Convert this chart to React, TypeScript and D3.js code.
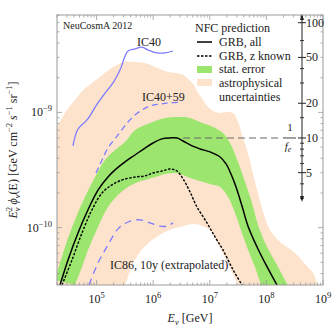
import React from 'react';
import * as d3 from 'd3';

const W = 332, H = 327;
const M = { left: 57, right: 323, top: 15, bottom: 285 };

const xDomain: [number, number] = [2e4, 1e9];
const yDomain: [number, number] = [3.18e-11, 7.0e-9];

const xTickExps = [5, 6, 7, 8, 9];
const yTickExps = [-10, -9];
const feMajor = [5, 10, 20, 50, 100];
const feMinor = [3, 4, 6, 7, 8, 9, 15, 30, 40, 70];
const feRef = 10;
const feToFlux = 6.0e-11;
const feRefStartE = 3.37e6;

// GRB, all
const grbAllE = [2.26e4, 3.13e4, 4.70e4, 7.06e4, 1.06e5, 1.59e5, 2.12e5, 3.18e5, 4.78e5, 7.17e5, 9.94e5, 1.43e6, 1.98e6, 2.64e6, 3.37e6, 4.86e6, 6.72e6, 1.01e7, 1.52e7, 1.94e7, 2.37e7, 2.91e7, 3.71e7, 4.74e7, 6.84e7, 1.03e8, 1.54e8, 1.82e8];
const grbAllF = [3.18e-11, 5.25e-11, 9.0e-11, 1.43e-10, 2.12e-10, 2.75e-10, 3.17e-10, 3.72e-10, 4.27e-10, 4.91e-10, 5.43e-10, 5.89e-10, 6.0e-10, 6.0e-10, 5.65e-10, 5.12e-10, 4.82e-10, 4.54e-10, 4.10e-10, 3.57e-10, 2.92e-10, 2.25e-10, 1.54e-10, 1.03e-10, 6.8e-11, 4.56e-11, 3.18e-11, 2.77e-11];

// GRB, z known
const grbZE = [2.45e4, 3.68e4, 5.53e4, 8.30e4, 1.25e5, 1.87e5, 2.81e5, 4.78e5, 7.17e5, 9.94e5, 1.43e6, 1.98e6, 2.64e6, 3.37e6, 4.48e6, 5.95e6, 8.93e6, 1.24e7, 1.71e7, 2.58e7, 3.71e7, 4.37e7];
const grbZF = [3.18e-11, 5.25e-11, 9.0e-11, 1.43e-10, 2.0e-10, 2.35e-10, 2.59e-10, 2.75e-10, 2.81e-10, 2.98e-10, 3.10e-10, 3.23e-10, 3.10e-10, 2.65e-10, 2.04e-10, 1.51e-10, 1.10e-10, 8.3e-11, 6.41e-11, 4.30e-11, 3.18e-11, 2.77e-11];

// stat. error band
const statUpE = [1.84e4, 2.77e4, 4.16e4, 6.25e4, 9.38e4, 1.41e5, 2.12e5, 3.18e5, 4.78e5, 7.17e5, 1.08e6, 1.62e6, 2.43e6, 3.65e6, 5.06e6, 6.72e6, 1.14e7, 1.71e7, 2.28e7, 2.91e7, 3.56e7, 4.20e7, 5.57e7, 7.11e7, 9.86e7, 1.54e8, 2.13e8, 2.72e8];
const statUpF = [3.52e-11, 6.8e-11, 1.17e-10, 1.85e-10, 2.75e-10, 3.87e-10, 4.72e-10, 5.54e-10, 7.04e-10, 7.78e-10, 8.43e-10, 8.95e-10, 9.1e-10, 9.1e-10, 8.77e-10, 8.26e-10, 7.48e-10, 6.63e-10, 5.43e-10, 4.10e-10, 3.17e-10, 2.49e-10, 1.64e-10, 1.06e-10, 7.08e-11, 4.75e-11, 3.52e-11, 2.88e-11];
const statLoE = [4.16e4, 5.53e4, 7.06e4, 1.06e5, 1.59e5, 2.39e5, 3.59e5, 5.40e5, 7.17e5, 1.08e6, 1.62e6, 2.43e6, 3.37e6, 4.48e6, 6.72e6, 1.01e7, 1.52e7, 2.10e7, 2.79e7, 3.71e7, 4.74e7, 6.30e7, 8.04e7, 9.08e7];
const statLoF = [3.18e-11, 4.56e-11, 6.41e-11, 1.015e-10, 1.51e-10, 1.92e-10, 2.25e-10, 2.49e-10, 2.59e-10, 2.75e-10, 2.92e-10, 2.98e-10, 2.87e-10, 2.70e-10, 2.54e-10, 2.39e-10, 2.25e-10, 1.85e-10, 1.34e-10, 9.0e-11, 6.41e-11, 4.56e-11, 3.18e-11, 2.77e-11];

// astrophysical uncertainties band
const astroUpE = [1.84e4, 2.45e4, 3.0e4, 4.16e4, 5.76e4, 8.30e4, 1.15e5, 1.73e5, 2.30e5, 2.93e5, 4.78e5, 7.17e5, 1.08e6, 1.62e6, 2.43e6, 3.23e6, 3.96e6, 5.06e6, 6.20e6, 7.60e6, 8.93e6, 1.14e7, 1.52e7, 2.02e7, 2.58e7, 3.16e7, 3.71e7, 4.55e7, 5.57e7, 6.84e7, 8.73e7, 1.16e8, 1.74e8, 3.21e8, 5.01e8, 6.67e8, 7.85e8, 8.51e8];
const astroUpF = [7.04e-10, 8.95e-10, 1.05e-9, 1.28e-9, 1.56e-9, 1.80e-9, 2.03e-9, 2.38e-9, 2.58e-9, 2.74e-9, 2.74e-9, 2.68e-9, 2.48e-9, 2.29e-9, 2.20e-9, 2.15e-9, 1.99e-9, 1.77e-9, 1.47e-9, 1.28e-9, 1.14e-9, 1.03e-9, 9.9e-10, 1.01e-9, 9.9e-10, 8.26e-10, 6.37e-10, 4.72e-10, 3.17e-10, 2.12e-10, 1.37e-10, 9.56e-11, 7.52e-11, 6.04e-11, 4.75e-11, 4.05e-11, 3.32e-11, 2.77e-11];
const astroLoE = [1.84e4, 2.70e5, 3.18e5, 4.23e5, 5.40e5, 7.17e5, 1.08e6, 1.62e6, 2.15e6, 2.98e6, 4.12e6, 5.48e6, 7.60e6, 1.01e7, 1.19e7, 1.52e7, 1.94e7, 2.47e7, 3.16e7, 3.56e7];
const astroLoF = [2.61e-11, 2.77e-11, 3.18e-11, 4.75e-11, 5.80e-11, 6.94e-11, 8.15e-11, 9.18e-11, 9.75e-11, 1.015e-10, 1.06e-10, 1.077e-10, 1.03e-10, 9.56e-11, 8.48e-11, 6.67e-11, 5.25e-11, 4.13e-11, 3.18e-11, 2.77e-11];

// IceCube bounds
const ic40E = [3.83e4, 4.70e4, 6.78e4, 1.02e5, 1.41e5, 1.95e5, 2.59e5, 3.59e5, 4.78e5, 6.35e5, 8.11e5, 1.17e6, 1.62e6, 2.24e6];
const ic40F = [5.12e-10, 7.18e-10, 8.6e-10, 1.18e-9, 1.47e-9, 1.80e-9, 2.33e-9, 3.41e-9, 3.55e-9, 3.69e-9, 3.48e-9, 3.28e-9, 3.28e-9, 3.41e-9];
const ic4059E = [9.77e4, 1.25e5, 1.59e5, 2.39e5, 3.59e5, 4.78e5, 6.35e5, 8.79e5, 1.32e6, 1.98e6, 3.23e6];
const ic4059F = [2.98e-10, 3.87e-10, 4.91e-10, 6.37e-10, 8.26e-10, 9.5e-10, 1.05e-9, 1.14e-9, 1.18e-9, 1.21e-9, 1.23e-9];
const ic86E = [7.35e4, 1.06e5, 1.59e5, 2.39e5, 3.59e5, 5.85e5, 8.79e5, 1.32e6, 1.75e6, 2.24e6];
const ic86F = [3.18e-11, 4.94e-11, 7.08e-11, 9.75e-11, 1.12e-10, 1.17e-10, 1.10e-10, 1.03e-10, 1.03e-10, 1.10e-10];

const PEACH = '#FDE3CC';
const GREEN = '#9CE56E';
const BLUE = '#7C7CFF';
const FRAME = '#9a9a9a';
const FONT = 'Liberation Serif, Times New Roman, serif';

type P = [number, number];
const zip = (E: number[], F: number[]): P[] => E.map((e, i) => [e, F[i]] as P);

export default function App() {
  const x = d3.scaleLog().domain(xDomain).range([M.left, M.right]);
  const y = d3.scaleLog().domain(yDomain).range([M.bottom, M.top]);
  const fe = d3.scaleLog().domain([yDomain[0] / feToFlux, yDomain[1] / feToFlux]).range([M.bottom, M.top]);
  const line = d3.line<P>().x(d => x(d[0])).y(d => y(d[1])).curve(d3.curveCatmullRom.alpha(0.5));
  const band = (uE: number[], uF: number[], lE: number[], lF: number[]) => {
    const up = line(zip(uE, uF)) as string;
    const lo = line(zip(lE, lF).reverse()) as string;
    return up + 'L' + lo.slice(1) + 'Z';
  };
  const isMajor = (t: number) => Math.abs(Math.log10(t) - Math.round(Math.log10(t))) < 1e-6;
  const xt = x.ticks();
  const yt = y.ticks();
  const axX = 302;
  const refY = y(feRef * feToFlux);

  return (
    <svg width={W} height={H} style={{ position: 'absolute', left: 0, top: 0, background: '#fff' }} fontFamily={FONT}>
      <defs>
        <clipPath id="plot"><rect x={M.left} y={M.top} width={M.right - M.left} height={M.bottom - M.top} /></clipPath>
      </defs>
      <g clipPath="url(#plot)">
        <path d={band(astroUpE, astroUpF, astroLoE, astroLoF)} fill={PEACH} />
        <path d={band(statUpE, statUpF, statLoE, statLoF)} fill={GREEN} />
        <path d={line(zip(ic40E, ic40F)) as string} fill="none" stroke={BLUE} strokeWidth={1.3} />
        <path d={line(zip(ic4059E, ic4059F)) as string} fill="none" stroke={BLUE} strokeWidth={1.3} strokeDasharray="6,4" />
        <path d={line(zip(ic86E, ic86F)) as string} fill="none" stroke={BLUE} strokeWidth={1.3} strokeDasharray="7,5" />
        <path d={line(zip(grbZE, grbZF)) as string} fill="none" stroke="#000" strokeWidth={1.4} strokeDasharray="2.5,1.5" />
        <path d={line(zip(grbAllE, grbAllF)) as string} fill="none" stroke="#000" strokeWidth={1.5} />
        <line x1={x(feRefStartE)} x2={281} y1={refY} y2={refY} stroke="#666" strokeWidth={1.1} strokeDasharray="7,4" />
        <line x1={283} x2={296} y1={refY} y2={refY} stroke="#555" strokeWidth={1.1} />
      </g>

      {/* frame */}
      <rect x={M.left} y={M.top} width={M.right - M.left} height={M.bottom - M.top} fill="none" stroke={FRAME} strokeWidth={1} />
      {xt.map((t, i) => {
        const len = isMajor(t) ? 5 : 2.5;
        const px = x(t);
        return (
          <g key={'xt' + i}>
            <line x1={px} x2={px} y1={M.bottom} y2={M.bottom - len} stroke={FRAME} strokeWidth={0.8} />
            <line x1={px} x2={px} y1={M.top} y2={M.top + len} stroke={FRAME} strokeWidth={0.8} />
          </g>
        );
      })}
      {yt.map((t, i) => {
        const len = isMajor(t) ? 5 : 2.5;
        const py = y(t);
        return (
          <g key={'yt' + i}>
            <line x1={M.left} x2={M.left + len} y1={py} y2={py} stroke={FRAME} strokeWidth={0.8} />
            <line x1={M.right} x2={M.right - len} y1={py} y2={py} stroke={FRAME} strokeWidth={0.8} />
          </g>
        );
      })}

      {/* x tick labels */}
      {xTickExps.map(e => (
        <text key={'xl' + e} x={x(Math.pow(10, e))} y={303} fontSize={12} textAnchor="middle" fill="#222">
          10<tspan fontSize={8.5} dy={-5}>{e}</tspan>
        </text>
      ))}
      {/* y tick labels */}
      {yTickExps.map(e => (
        <text key={'yl' + e} x={M.left - 5} y={y(Math.pow(10, e)) + 4} fontSize={12} textAnchor="end" fill="#222">
          10<tspan fontSize={8.5} dy={-5}>{'\u2212' + Math.abs(e)}</tspan>
        </text>
      ))}

      {/* axis titles */}
      <text x={190} y={322} fontSize={12} textAnchor="middle" fill="#222">
        <tspan fontStyle="italic">E</tspan><tspan fontSize={8.5} dy={2.5} fontStyle="italic">ν</tspan><tspan dy={-2.5}> [GeV]</tspan>
      </text>
      <text transform="translate(17,150) rotate(-90)" fontSize={12} textAnchor="middle" fill="#222">
        <tspan fontStyle="italic">E</tspan>
        <tspan fontSize={8.5} dy={-5}>2</tspan>
        <tspan fontSize={8.5} dx={-4.3} dy={8} fontStyle="italic">ν</tspan>
        <tspan dy={-3}> </tspan>
        <tspan fontStyle="italic">ϕ</tspan>
        <tspan fontSize={8.5} dy={2.5} fontStyle="italic">ν</tspan>
        <tspan dy={-2.5}>(E) [GeV cm</tspan>
        <tspan fontSize={8.5} dy={-5}>−2</tspan>
        <tspan dy={5}> </tspan>
        <tspan fontStyle="italic">s</tspan>
        <tspan fontSize={8.5} dy={-5}>−1</tspan>
        <tspan dy={5}> sr</tspan>
        <tspan fontSize={8.5} dy={-5}>−1</tspan>
        <tspan dy={5}>]</tspan>
      </text>

      {/* right 1/f_e axis */}
      <line x1={axX} x2={axX} y1={M.top + 1} y2={200} stroke="#222" strokeWidth={1} />
      <path d={`M${axX},${M.top - 1}L${axX - 2},${M.top + 5}L${axX + 2},${M.top + 5}Z`} fill="#222" />
      <path d={`M${axX},${202}L${axX - 2},${196}L${axX + 2},${196}Z`} fill="#222" />
      {feMajor.map(v => (
        <g key={'fe' + v}>
          <line x1={axX - 4} x2={axX + 4} y1={fe(v)} y2={fe(v)} stroke="#222" strokeWidth={1} />
          <text x={axX + 4} y={fe(v) + 4} fontSize={12} fill="#222">{v}</text>
        </g>
      ))}
      {feMinor.map(v => (
        <line key={'fm' + v} x1={axX - 2} x2={axX + 2} y1={fe(v)} y2={fe(v)} stroke="#222" strokeWidth={0.9} />
      ))}
      <text x={290} y={131} fontSize={11} textAnchor="middle" fill="#222">1</text>
      <text x={288} y={150} fontSize={11} textAnchor="middle" fill="#222">
        <tspan fontStyle="italic">f</tspan><tspan fontSize={8} dy={2} fontStyle="italic">e</tspan>
      </text>

      {/* annotations */}
      <text x={63} y={28.5} fontSize={10} fill="#222">NeuCosmA 2012</text>
      <text x={137} y={46} fontSize={12} fill="#222">IC40</text>
      <text x={142} y={101} fontSize={12} fill="#222">IC40+59</text>
      <text x={110} y={269} fontSize={12} fill="#222">IC86, 10y (extrapolated)</text>

      {/* legend */}
      <text x={195} y={31.5} fontSize={12} fill="#222">NFC prediction</text>
      <line x1={197} x2={212} y1={42} y2={42} stroke="#000" strokeWidth={1.5} />
      <text x={219} y={46} fontSize={12} fill="#222">GRB, all</text>
      <line x1={197} x2={212} y1={56} y2={56} stroke="#000" strokeWidth={1.4} strokeDasharray="2.5,1.5" />
      <text x={219} y={60} fontSize={12} fill="#222">GRB, z known</text>
      <rect x={197} y={66} width={15} height={7} fill={GREEN} />
      <text x={219} y={73} fontSize={12} fill="#222">stat. error</text>
      <rect x={197} y={79} width={15} height={7} fill={PEACH} />
      <text x={219} y={86.5} fontSize={12} fill="#222">astrophysical</text>
      <text x={219} y={100.5} fontSize={12} fill="#222">uncertainties</text>
    </svg>
  );
}
